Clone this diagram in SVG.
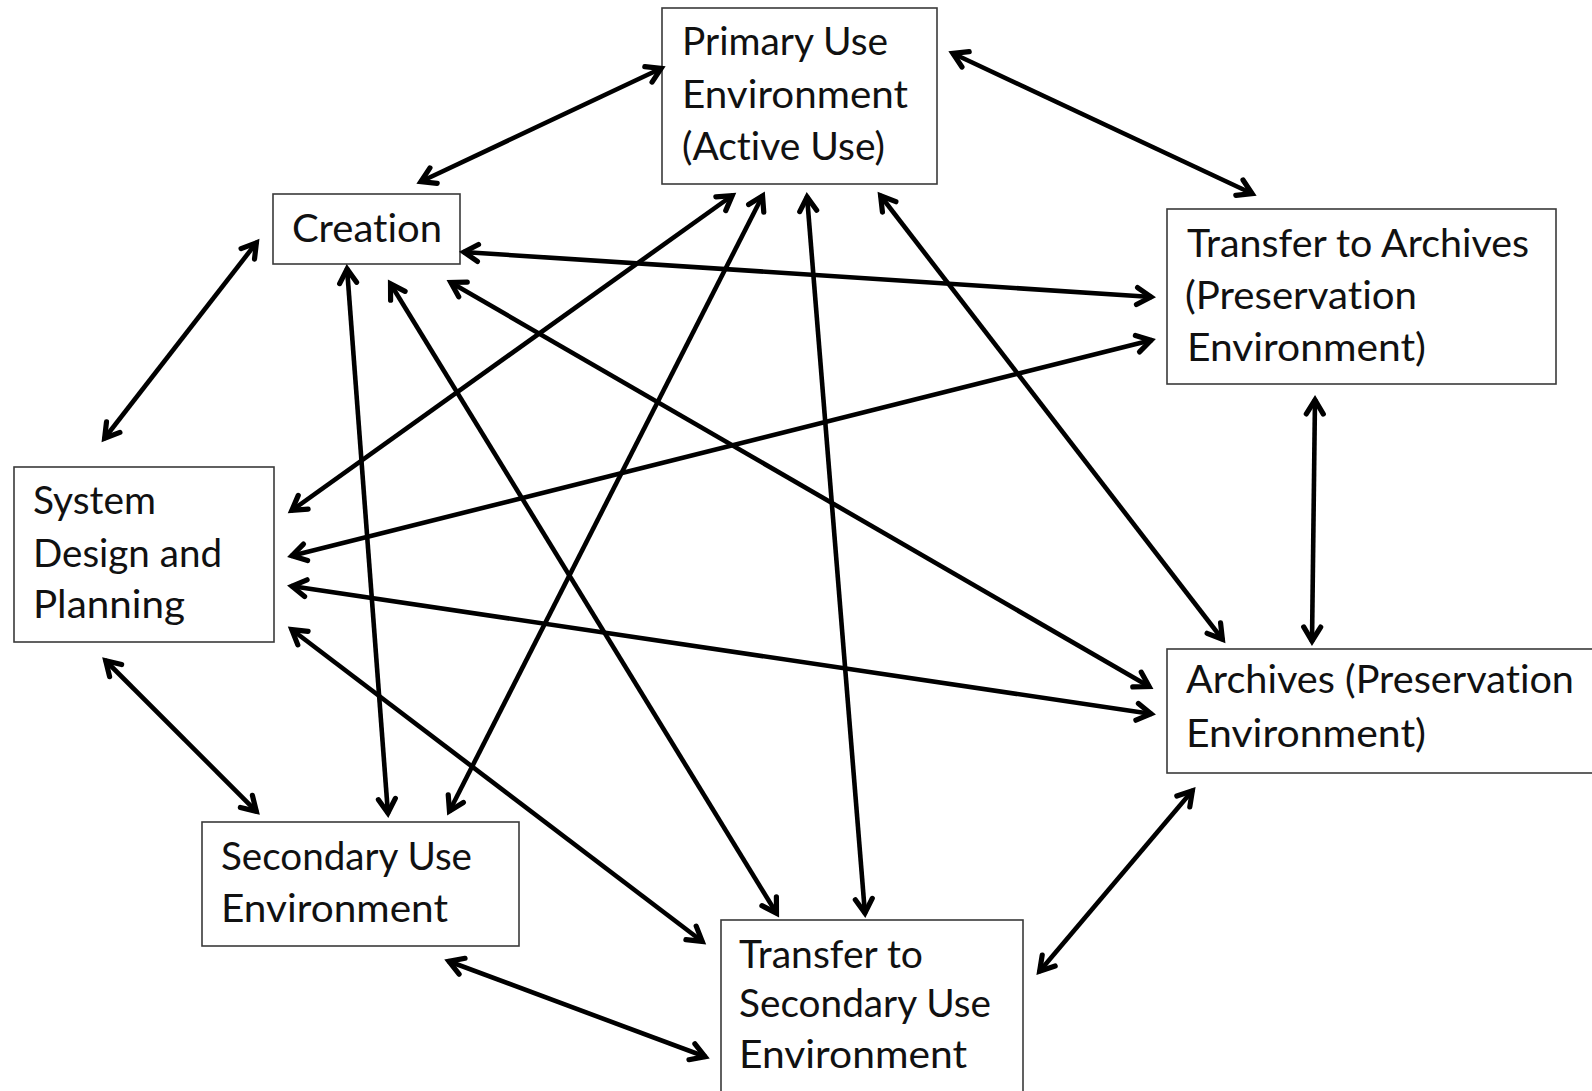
<svg xmlns="http://www.w3.org/2000/svg" width="1592" height="1091" viewBox="0 0 1592 1091">
<style>
.box{fill:#fff;stroke:#3a3a3a;stroke-width:1.6}
.t{font-family:Lato,"Open Sans","Liberation Sans",sans-serif;font-size:38px;fill:#111;font-variant-ligatures:none;font-feature-settings:"liga" 0}
.c{stroke:#000;stroke-width:4.6;fill:none;marker-start:url(#ah);marker-end:url(#ah)}
</style>
<defs>
<marker id="ah" markerUnits="userSpaceOnUse" markerWidth="40" markerHeight="40" viewBox="-20 -20 40 40" refX="0" refY="0" orient="auto-start-reverse">
<path d="M-15,-8.5 L-1,0 L-15,8.5" fill="none" stroke="#000" stroke-width="5.2" stroke-linecap="round" stroke-linejoin="miter"/>
</marker>
</defs>
<rect width="1592" height="1091" fill="#fff"/>
<g id="nodes">
<g id="primary">
<rect class="box" x="662" y="8" width="275" height="176"/>
<text class="t" x="682" y="55" textLength="206" lengthAdjust="spacingAndGlyphs">Primary Use</text>
<text class="t" x="682" y="108" textLength="226" lengthAdjust="spacingAndGlyphs">Environment</text>
<text class="t" x="682" y="160" textLength="203" lengthAdjust="spacingAndGlyphs">(Active Use)</text>
</g>
<g id="creation">
<rect class="box" x="273" y="194" width="187" height="70"/>
<text class="t" x="292" y="242" textLength="150" lengthAdjust="spacingAndGlyphs">Creation</text>
</g>
<g id="transfer-archives">
<rect class="box" x="1167" y="209" width="389" height="175"/>
<text class="t" x="1187" y="257" textLength="342" lengthAdjust="spacingAndGlyphs">Transfer to Archives</text>
<text class="t" x="1185" y="309" textLength="232" lengthAdjust="spacingAndGlyphs">(Preservation</text>
<text class="t" x="1187" y="361" textLength="239" lengthAdjust="spacingAndGlyphs">Environment)</text>
</g>
<g id="system">
<rect class="box" x="14" y="467" width="260" height="175"/>
<text class="t" x="33" y="514" textLength="123" lengthAdjust="spacingAndGlyphs">System</text>
<text class="t" x="33" y="567" textLength="189" lengthAdjust="spacingAndGlyphs">Design and</text>
<text class="t" x="33" y="618" textLength="152" lengthAdjust="spacingAndGlyphs">Planning</text>
</g>
<g id="archives">
<rect class="box" x="1167" y="649" width="440" height="124"/>
<text class="t" x="1186" y="693" textLength="388" lengthAdjust="spacingAndGlyphs">Archives (Preservation</text>
<text class="t" x="1186" y="747" textLength="240" lengthAdjust="spacingAndGlyphs">Environment)</text>
</g>
<g id="secondary">
<rect class="box" x="202" y="822" width="317" height="124"/>
<text class="t" x="221" y="870" textLength="251" lengthAdjust="spacingAndGlyphs">Secondary Use</text>
<text class="t" x="221" y="922" textLength="227" lengthAdjust="spacingAndGlyphs">Environment</text>
</g>
<g id="transfer-secondary">
<rect class="box" x="721" y="920" width="302" height="190"/>
<text class="t" x="739" y="968" textLength="184" lengthAdjust="spacingAndGlyphs">Transfer to</text>
<text class="t" x="739" y="1017" textLength="252" lengthAdjust="spacingAndGlyphs">Secondary Use</text>
<text class="t" x="739" y="1068" textLength="228" lengthAdjust="spacingAndGlyphs">Environment</text>
</g>
</g>
<g id="connectors">
<line class="c" x1="420" y1="182" x2="662" y2="68"/>
<line class="c" x1="952" y1="53" x2="1253" y2="194"/>
<line class="c" x1="463" y1="252" x2="1152" y2="297"/>
<line class="c" x1="257" y1="242" x2="104" y2="439"/>
<line class="c" x1="291" y1="511" x2="733" y2="195"/>
<line class="c" x1="291" y1="556" x2="1152" y2="340"/>
<line class="c" x1="291" y1="586" x2="1152" y2="714"/>
<line class="c" x1="291" y1="629" x2="703" y2="942"/>
<line class="c" x1="105" y1="660" x2="257" y2="812"/>
<line class="c" x1="347" y1="268" x2="388" y2="814"/>
<line class="c" x1="390" y1="283" x2="777" y2="914"/>
<line class="c" x1="450" y1="282" x2="1150" y2="687"/>
<line class="c" x1="763" y1="195" x2="449" y2="812"/>
<line class="c" x1="807" y1="196" x2="865" y2="914"/>
<line class="c" x1="880" y1="195" x2="1223" y2="640"/>
<line class="c" x1="1315" y1="399" x2="1312" y2="642"/>
<line class="c" x1="1193" y1="790" x2="1039" y2="972"/>
<line class="c" x1="448" y1="961" x2="706" y2="1057"/>
</g>
</svg>
